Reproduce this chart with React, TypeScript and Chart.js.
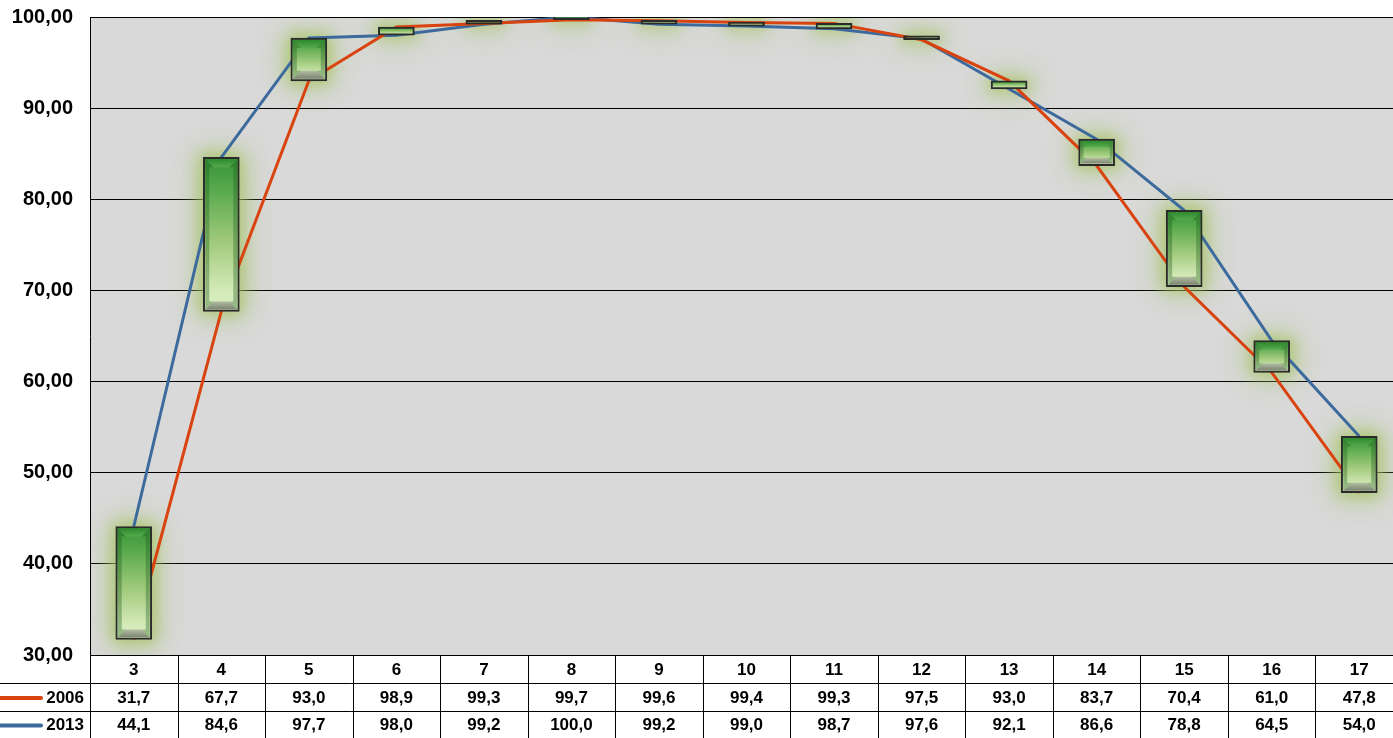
import React, { useEffect, useRef } from 'react';
import { Chart, registerables } from 'chart.js';

Chart.register(...registerables);

const categories = ['3', '4', '5', '6', '7', '8', '9', '10', '11', '12', '13', '14', '15', '16', '17'];
const values2006 = [31.7, 67.7, 93.0, 98.9, 99.3, 99.7, 99.6, 99.4, 99.3, 97.5, 93.0, 83.7, 70.4, 61.0, 47.8];
const values2013 = [44.1, 84.6, 97.7, 98.0, 99.2, 100.0, 99.2, 99.0, 98.7, 97.6, 92.1, 86.6, 78.8, 64.5, 54.0];
const seriesNames = ['2006', '2013'];
const seriesColors = ['#D9430F', '#3D6A9C'];
const yMin = 30;
const yMax = 100;
const yStep = 10;

const FONT = '"Liberation Sans", Arial, sans-serif';

export default function App() {
  const ref = useRef<HTMLCanvasElement>(null);

  useEffect(() => {
    document.body.style.margin = '0';
    document.body.style.overflow = 'hidden';
    const canvas = ref.current!;
    const upDown = categories.map((_, i) => [
      Math.min(values2006[i], values2013[i]),
      Math.max(values2006[i], values2013[i]),
    ]);

    const bgPlugin = {
      id: 'plotBg',
      beforeDraw(chart: any) {
        const { ctx, chartArea: a } = chart;
        ctx.save();
        ctx.fillStyle = '#D9D9D9';
        ctx.fillRect(a.left, a.top, a.right - a.left, a.bottom - a.top);
        ctx.restore();
      },
    };

    const boxRect = (el: any) => {
      const p = el.getProps(['x', 'y', 'base', 'width'], true);
      const top = Math.min(p.y, p.base);
      const bottom = Math.max(p.y, p.base);
      return { l: p.x - p.width / 2, r: p.x + p.width / 2, top, bottom };
    };

    const glowPlugin = {
      id: 'glow',
      beforeDatasetsDraw(chart: any) {
        const { ctx, chartArea: a } = chart;
        const meta = chart.getDatasetMeta(0);
        const off = 5000;
        ctx.save();
        ctx.beginPath();
        ctx.rect(a.left + 1, a.top + 1, a.right - a.left - 1, a.bottom - a.top - 1);
        ctx.clip();
        ctx.fillStyle = '#000';
        ctx.shadowOffsetX = off;
        ctx.shadowOffsetY = 0;
        meta.data.forEach((el: any) => {
          const b = boxRect(el);
          ctx.shadowColor = 'rgba(165,195,100,0.7)';
          ctx.shadowBlur = 28;
          ctx.fillRect(b.l - 5 - off, b.top - 5, b.r - b.l + 10, b.bottom - b.top + 10);
          ctx.shadowColor = 'rgba(160,195,90,0.55)';
          ctx.shadowBlur = 12;
          ctx.fillRect(b.l - 3 - off, b.top - 3, b.r - b.l + 6, b.bottom - b.top + 6);
        });
        ctx.restore();
      },
    };

    const bevelPlugin = {
      id: 'bevel',
      afterDatasetsDraw(chart: any) {
        const { ctx } = chart;
        const meta = chart.getDatasetMeta(0);
        ctx.save();
        meta.data.forEach((el: any) => {
          const b = boxRect(el);
          const bw = 2;
          const l = b.l + bw, r = b.r - bw, t0 = b.top + bw, b0 = b.bottom - bw;
          const h = b0 - t0;
          if (h < 8) return;
          const t = Math.min(8, h / 4);
          let g = ctx.createLinearGradient(0, t0, 0, t0 + t);
          g.addColorStop(0, '#2E8A2E');
          g.addColorStop(1, '#55AA4C');
          ctx.fillStyle = g;
          ctx.beginPath();
          ctx.moveTo(l, t0); ctx.lineTo(r, t0); ctx.lineTo(r - t, t0 + t); ctx.lineTo(l + t, t0 + t); ctx.closePath();
          ctx.fill();
          g = ctx.createLinearGradient(0, b0 - t, 0, b0);
          g.addColorStop(0, '#B3BDA2');
          g.addColorStop(1, '#7A8370');
          ctx.fillStyle = g;
          ctx.beginPath();
          ctx.moveTo(l, b0); ctx.lineTo(r, b0); ctx.lineTo(r - t, b0 - t); ctx.lineTo(l + t, b0 - t); ctx.closePath();
          ctx.fill();
          const s = Math.min(4, t * 0.5);
          ctx.fillStyle = 'rgba(25,90,25,0.35)';
          ctx.beginPath();
          ctx.moveTo(l, t0); ctx.lineTo(l + t, t0 + t); ctx.lineTo(l + s, t0 + t); ctx.lineTo(l + s, b0 - t); ctx.lineTo(l + t, b0 - t); ctx.lineTo(l, b0); ctx.closePath();
          ctx.fill();
          ctx.beginPath();
          ctx.moveTo(r, t0); ctx.lineTo(r - t, t0 + t); ctx.lineTo(r - s, t0 + t); ctx.lineTo(r - s, b0 - t); ctx.lineTo(r - t, b0 - t); ctx.lineTo(r, b0); ctx.closePath();
          ctx.fill();
        });
        ctx.restore();
      },
    };

    const tablePlugin = {
      id: 'dataTable',
      afterDraw(chart: any) {
        const { ctx, chartArea: a } = chart;
        const xs = chart.scales.x;
        const n = categories.length;
        const colW = (a.right - a.left) / n;
        const rowH = 28;
        const top = a.bottom;
        const r1 = top + rowH;
        const r2 = top + rowH * 2;
        const bottom = chart.height;
        const W = chart.width;
        ctx.save();
        ctx.strokeStyle = '#000';
        ctx.lineWidth = 1;
        ctx.beginPath();
        ctx.moveTo(0, Math.round(r1) + 0.5); ctx.lineTo(W, Math.round(r1) + 0.5);
        ctx.moveTo(0, Math.round(r2) + 0.5); ctx.lineTo(W, Math.round(r2) + 0.5);
        for (let k = 0; k <= n; k++) {
          const xb = Math.round(a.left + k * colW) + 0.5;
          ctx.moveTo(xb, top); ctx.lineTo(xb, bottom);
        }
        ctx.stroke();

        ctx.fillStyle = '#000';
        ctx.font = `bold 17px ${FONT}`;
        ctx.textAlign = 'center';
        ctx.textBaseline = 'middle';
        const rows = [values2006, values2013];
        const cy = [top + rowH / 2 + 1, r1 + rowH / 2 + 1, r2 + (bottom - r2) / 2 + 1];
        categories.forEach((c, i) => {
          const cx = xs.getPixelForValue(i);
          ctx.fillText(c, cx, cy[0]);
          rows.forEach((arr, j) => {
            ctx.fillText(arr[i].toFixed(1).replace('.', ','), cx, cy[j + 1]);
          });
        });
        seriesNames.forEach((name, j) => {
          const y = cy[j + 1];
          ctx.strokeStyle = seriesColors[j];
          ctx.lineWidth = 4;
          ctx.lineCap = 'round';
          ctx.beginPath();
          ctx.moveTo(-2, y); ctx.lineTo(41, y);
          ctx.stroke();
          ctx.textAlign = 'right';
          ctx.fillText(name, 84, y);
        });
        ctx.restore();
      },
    };

    const barBg = (c: any) => {
      const chart = c.chart;
      const ys = chart.scales && chart.scales.y;
      if (!ys || !Array.isArray(c.raw)) return '#7DBB5A';
      const topPx = ys.getPixelForValue(c.raw[1]);
      const botPx = ys.getPixelForValue(c.raw[0]);
      if (!isFinite(topPx) || !isFinite(botPx) || botPx - topPx < 1) return '#4E8A3E';
      const g = chart.ctx.createLinearGradient(0, topPx, 0, botPx);
      g.addColorStop(0, '#389238');
      g.addColorStop(0.2, '#56A84B');
      g.addColorStop(0.55, '#A0CA7B');
      g.addColorStop(0.85, '#D2E9B6');
      g.addColorStop(1, '#DCEFC4');
      return g;
    };

    const chart = new Chart(canvas, {
      type: 'bar',
      data: {
        labels: categories,
        datasets: [
          {
            type: 'bar',
            label: 'up-down',
            data: upDown as any,
            backgroundColor: barBg as any,
            borderColor: '#2B2B2B',
            borderWidth: 2,
            borderSkipped: false,
            barThickness: 36,
            minBarLength: 4,
            order: 0,
          },
          {
            type: 'line',
            label: seriesNames[0],
            data: values2006,
            borderColor: seriesColors[0],
            backgroundColor: seriesColors[0],
            borderWidth: 3,
            pointRadius: 0,
            tension: 0,
            order: 1,
          },
          {
            type: 'line',
            label: seriesNames[1],
            data: values2013,
            borderColor: seriesColors[1],
            backgroundColor: seriesColors[1],
            borderWidth: 3,
            pointRadius: 0,
            tension: 0,
            order: 2,
          },
        ] as any,
      },
      options: {
        responsive: false,
        animation: false,
        events: [],
        layout: { padding: { top: 17, bottom: 83, left: 0, right: 0 } },
        plugins: { legend: { display: false }, tooltip: { enabled: false } },
        scales: {
          x: { type: 'category', display: false, offset: true },
          y: {
            min: yMin,
            max: yMax,
            afterFit: (s: any) => { s.width = 90; s.paddingTop = 0; s.paddingBottom = 0; },
            border: { display: true, color: '#000', width: 1 },
            grid: { color: '#000', lineWidth: 1, drawTicks: false },
            ticks: {
              stepSize: yStep,
              padding: 17,
              color: '#000',
              font: { family: FONT, size: 20, weight: 'bold' },
              callback: (v: any) => Number(v).toFixed(2).replace('.', ','),
            },
          },
        },
      },
      plugins: [bgPlugin, glowPlugin, bevelPlugin, tablePlugin],
    });
    return () => chart.destroy();
  }, []);

  return (
    <div style={{ width: 1393, height: 738, overflow: 'hidden', background: '#fff' }}>
      <canvas ref={ref} width={1403} height={738} style={{ display: 'block' }} />
    </div>
  );
}
